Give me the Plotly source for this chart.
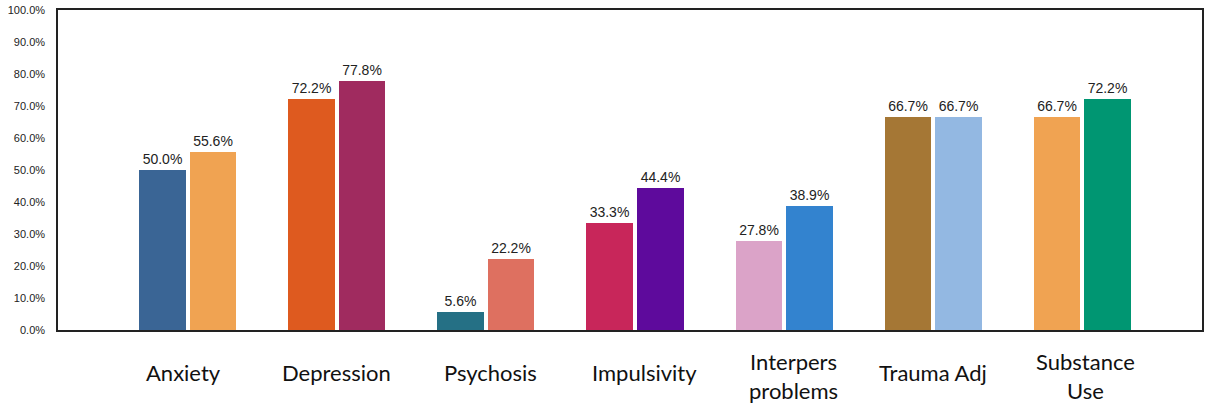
import plotly.graph_objects as go

categories = ["Anxiety", "Depression", "Psychosis", "Impulsivity",
              "Interpers<br>problems", "Trauma Adj", "Substance<br>Use"]
series_a = [50.0, 72.2, 5.6, 33.3, 27.8, 66.7, 66.7]
series_b = [55.6, 77.8, 22.2, 44.4, 38.9, 66.7, 72.2]
colors_a = ["#3A6595", "#DE5A1F", "#257085", "#C8265A", "#DBA3C8", "#A57735", "#F0A352"]
colors_b = ["#F0A352", "#A02B5F", "#DE7060", "#5E0A9C", "#3383CF", "#93B8E2", "#009672"]
y_ticks = [0, 10, 20, 30, 40, 50, 60, 70, 80, 90, 100]
label_xshift = [-4, 0, 5, 10, 9, 0, 3]

pos = list(range(len(categories)))
off = 0.168
w = 0.315

fig = go.Figure()
for vals, cols, sgn in [(series_a, colors_a, -1), (series_b, colors_b, 1)]:
    fig.add_trace(go.Bar(
        x=[p + sgn * off for p in pos], y=vals, width=w,
        marker=dict(color=cols, line=dict(width=0)),
        text=[f"{v:.1f}%" for v in vals], textposition="outside",
        textfont=dict(family="Liberation Sans, Arial", size=14, color="#222"),
        cliponaxis=False, showlegend=False, hoverinfo="skip",
    ))

for p, c, xs in zip(pos, categories, label_xshift):
    fig.add_annotation(x=p, y=0, xref="x", yref="paper", text=c, showarrow=False,
                       yanchor="middle", yshift=-42 if "<br>" not in c else -46, xshift=xs,
                       font=dict(family="Lato, Carlito, sans-serif", size=22, color="#111"))

fig.update_layout(
    width=1220, height=407,
    margin=dict(l=58, r=18, t=10, b=77, autoexpand=False),
    paper_bgcolor="white", plot_bgcolor="white",
    bargap=0,
)
fig.update_xaxes(range=[-0.872, 6.805], showticklabels=False, showgrid=False,
                 zeroline=False, showline=True, mirror=True, linecolor="#222", linewidth=1.5,
                 ticks="", automargin=False)
fig.update_yaxes(range=[0, 100], tickvals=y_ticks, ticktext=[f"{t:.1f}%" for t in y_ticks],
                 showgrid=False, zeroline=False, showline=True, mirror=True,
                 linecolor="#222", linewidth=1.5, ticks="", ticklabelstandoff=9,
                 automargin=False,
                 tickfont=dict(family="Liberation Sans, Arial", size=11, color="#222"))

fig.write_html("out.html", config={"displayModeBar": False},
               post_script="document.body.style.margin='0';")
